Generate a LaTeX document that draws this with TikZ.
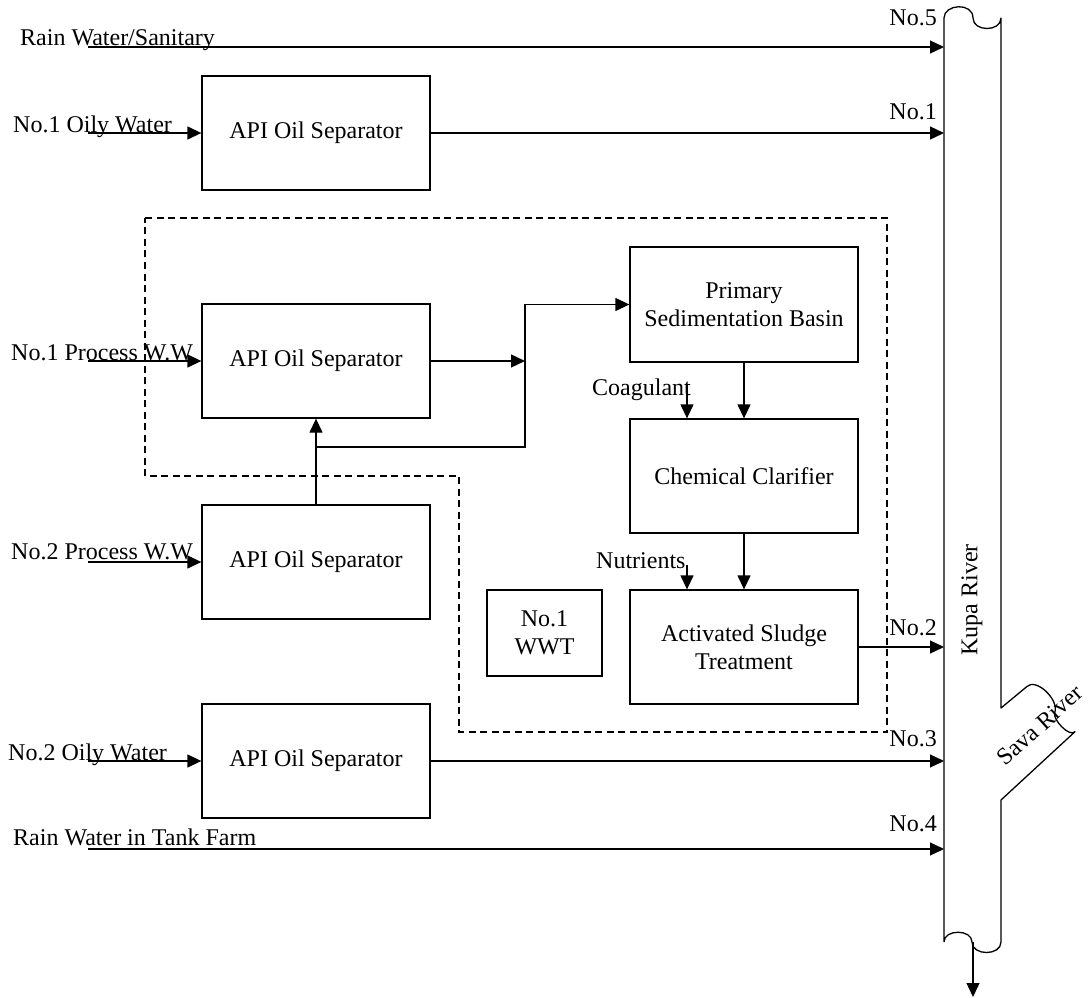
\documentclass[tikz,border=0pt]{standalone}
\usepackage{fontspec}
\setmainfont{Liberation Serif}
\usetikzlibrary{arrows.meta}
\begin{document}
\begin{tikzpicture}[x=1pt,y=-1pt,
  every node/.style={font=\fontsize{24}{28}\selectfont, inner sep=0pt},
  box/.style={draw, line width=1.3pt, minimum width=228pt, minimum height=114pt, align=center, fill=white},
  lab/.style={anchor=base west},
  labr/.style={anchor=base east},
  arr/.style={line width=1.3pt, -{Triangle[width=13pt,length=14pt]}},
  river/.style={line width=1.3pt, line join=round},
  dashbox/.style={line width=1.3pt, dash pattern=on 7pt off 4.5pt}
]
\useasboundingbox (0,0) rectangle (1088,998);

% dashed WWT region
\draw[dashbox] (145,218) -- (887,218) -- (887,732) -- (459,732) -- (459,476) -- (145,476) -- cycle;

% boxes
\node[box] (api1) at (316,133) {API Oil Separator};
\node[box] (api2) at (316,361) {API Oil Separator};
\node[box] (api3) at (316,562) {API Oil Separator};
\node[box] (api4) at (316,761) {API Oil Separator};
\node[box, minimum height=115pt] (psb) at (744,304.5) {Primary\\Sedimentation Basin};
\node[box] (cc) at (744,476) {Chemical Clarifier};
\node[box] (ast) at (744,647) {Activated Sludge\\Treatment};
\node[box, minimum width=115pt, minimum height=86pt] (wwt) at (544.5,633) {No.1\\WWT};

% river
\draw[river] (944,942) -- (944,18)
  .. controls (944,4) and (973,2) .. (973,18)
  .. controls (973,32) and (1001,32) .. (1001,18)
  -- (1001,708) -- (1026.7,686.7)
  .. controls (1035.6,677.2) and (1059.7,699.7) .. (1054.7,712.8)
  .. controls (1052.4,719.4) and (1069.5,737.6) .. (1075,731.7)
  -- (1001,800) -- (1001,942)
  .. controls (1001,956) and (972,956) .. (972,942)
  .. controls (972,929) and (944,929) .. (944,942);
\node[rotate=90] (kupa) at (972,600) {Kupa River};
\node[rotate=42] (sava) at (1040,725) {Sava River};

% coordinates
\coordinate (i0) at (88,47);   \coordinate (k5) at (944,47);
\coordinate (i1) at (88,133);  \coordinate (k1) at (944,133);
\coordinate (i2) at (88,361);  \coordinate (j1) at (525,361);
\coordinate (i3) at (88,562);
\coordinate (j2) at (316,447); \coordinate (j3) at (525,447);
\coordinate (k2) at (944,647);
\coordinate (i4) at (88,761);  \coordinate (k3) at (944,761);
\coordinate (i5) at (88,849);  \coordinate (k4) at (944,849);
\coordinate (coag) at (687,385);
\coordinate (nutr) at (687,565);
\coordinate (o0) at (973,942); \coordinate (o1) at (973,997);

% labels
\node[lab] (t0) at (20,46) {Rain Water/Sanitary};
\node[lab] (t1) at (13,132) {No.1 Oily Water};
\node[lab] (t2) at (11,360) {No.1 Process W.W};
\node[lab] (t3) at (11,559) {No.2 Process W.W};
\node[lab] (t4) at (8,760) {No.2 Oily Water};
\node[lab] (t5) at (13,845) {Rain Water in Tank Farm};
\node[labr] (n5) at (937,26) {No.5};
\node[labr] (n1) at (937,120) {No.1};
\node[labr] (n2) at (937,635) {No.2};
\node[labr] (n3) at (937,746) {No.3};
\node[labr] (n4) at (937,831) {No.4};
\node[lab] (tc) at (592,395) {Coagulant};
\node[lab] (tn) at (596,568) {Nutrients};

% connectors
\draw[arr] (i0) -- (k5);
\draw[arr] (i1) -- (api1.west);
\draw[arr] (api1.east) -- (k1);
\draw[arr] (i2) -- (api2.west);
\draw[arr] (api2.east) -- (j1);
\draw[arr] (i3) -- (api3.west);
\draw[arr] (api3.north) -- (api2.south);
\draw[arr] (j2) -- (j3) |- (psb.west);
\draw[arr] (psb.south) -- (cc.north);
\draw[arr] (coag) -- (coag |- cc.north);
\draw[arr] (cc.south) -- (ast.north);
\draw[arr] (nutr) -- (nutr |- ast.north);
\draw[arr] (ast.east) -- (k2);
\draw[arr] (i4) -- (api4.west);
\draw[arr] (api4.east) -- (k3);
\draw[arr] (i5) -- (k4);
\draw[arr] (o0) -- (o1);
\end{tikzpicture}
\end{document}
